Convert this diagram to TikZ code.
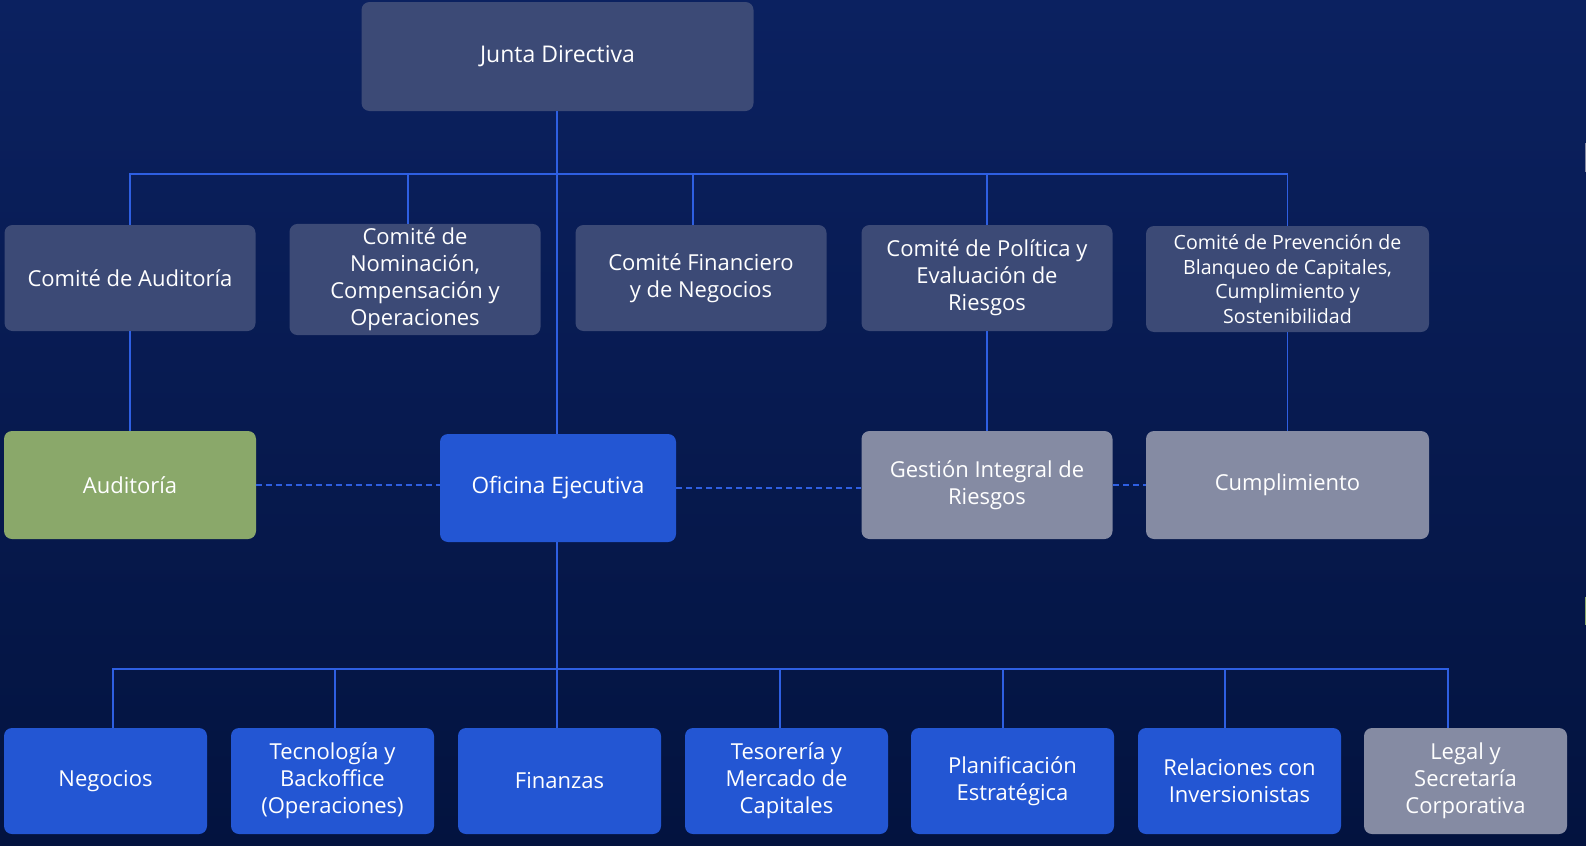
\documentclass[tikz,border=0pt]{standalone}
\usepackage{fontspec}
\setmainfont{Open Sans}
\definecolor{bgtop}{HTML}{0B2160}
\definecolor{bgbot}{HTML}{03133F}
\definecolor{board}{HTML}{3C4A76}
\definecolor{exec}{HTML}{2356D3}
\definecolor{muted}{HTML}{858BA3}
\definecolor{audit}{HTML}{8AA86A}
\definecolor{link}{HTML}{2E5FE2}
\tikzset{
  orgbox/.style={rounded corners=4pt, text=white, align=center, inner sep=2pt,
    font=\fontsize{11}{13.5}\selectfont},
  boardbox/.style={orgbox, fill=board, minimum width=125.5pt, minimum height=53pt},
  execbox/.style={orgbox, fill=exec, minimum width=101.5pt, minimum height=53pt},
  mutedbox/.style={orgbox, fill=muted, minimum width=125.5pt, minimum height=54pt},
  auditbox/.style={orgbox, fill=audit, minimum width=126pt, minimum height=54pt},
  solidlink/.style={draw=link, line width=0.6pt},
  dashlink/.style={draw=link, line width=0.6pt, dash pattern=on 3pt off 2pt}
}
\begin{document}
\begin{tikzpicture}[x=0.5pt, y=-0.5pt]
    \useasboundingbox (0,0) rectangle (1586,846);
    \shade[top color=bgtop, bottom color=bgbot] (0,0) rectangle (1586,846);
    % slivers at the right edge
    \fill[muted] (1584.5,143) rectangle (1586,172);
    \fill[audit] (1584.5,597) rectangle (1586,625);

    % board and committees
    \node[boardbox, minimum width=196pt, minimum height=54.5pt, font=\fontsize{11.5}{13.5}\selectfont] (jd) at (557.5,56.5) {Junta Directiva};
    \node[boardbox] (ca) at (130,278) {Comit\'e de Auditor\'ia};
    \node[boardbox] (cn) at (415,279.5) {Comit\'e de\\Nominaci\'on,\\Compensaci\'on y\\Operaciones};
    \node[boardbox] (cf) at (701,278) {Comit\'e Financiero\\y de Negocios};
    \node[boardbox] (cr) at (987,278) {Comit\'e de Pol\'itica y\\Evaluaci\'on de\\Riesgos};
    \node[boardbox, minimum width=141.5pt, font=\fontsize{9.8}{12.2}\selectfont] (cb) at (1287.5,279)
        {Comit\'e de Prevenci\'on de\\Blanqueo de Capitales,\\Cumplimiento y\\Sostenibilidad};

    % second level
    \node[auditbox] (au) at (130,485) {Auditor\'ia};
    \node[execbox, minimum width=118pt, minimum height=54pt, font=\fontsize{11.3}{13.5}\selectfont] (oe) at (558,488) {Oficina Ejecutiva};
    \node[mutedbox] (gr) at (987,485) {Gesti\'on Integral de\\Riesgos};
    \node[mutedbox, minimum width=141.5pt] (cu) at (1287.5,485) {Cumplimiento};

    % executive units
    \node[execbox] (ng) at (105.5,781) {Negocios};
    \node[execbox] (tb) at (332.5,781) {Tecnolog\'ia y\\Backoffice\\(Operaciones)};
    \node[execbox] (fz) at (559.5,781) {Finanzas};
    \node[execbox] (ts) at (786.5,781) {Tesorer\'ia y\\Mercado de\\Capitales};
    \node[execbox] (pe) at (1012.5,781) {Planificaci\'on\\Estrat\'egica};
    \node[execbox] (ri) at (1239.5,781) {Relaciones con\\Inversionistas};
    \node[mutedbox, minimum width=101.5pt, minimum height=53pt] (lg) at (1465.5,781) {Legal y\\Secretar\'ia\\Corporativa};

    \coordinate (bushi) at (557,174);
    \coordinate (buslo) at (557,669);

    % connectors
    \draw[solidlink] (jd.south -| bushi) -- (oe.north -| bushi);
    \draw[solidlink] (bushi) -| (ca.north);
    \draw[solidlink] (bushi) -| ([xshift=-3.5pt]cn.north);
    \draw[solidlink] (bushi) -| ([xshift=-4pt]cf.north);
    \draw[solidlink] (bushi) -| (cr.north);
    \draw[solidlink] (bushi) -| (cb.north);
    \draw[solidlink] (ca.south) -- (au.north);
    \draw[solidlink] (cr.south) -- (gr.north);
    \draw[solidlink] (cb.south) -- (cu.north);

    \draw[solidlink] (oe.south -| buslo) -- (buslo);
    \draw[solidlink] (buslo) -| ([xshift=3.75pt]ng.north);
    \draw[solidlink] (buslo) -| ([xshift=1.25pt]tb.north);
    \draw[solidlink] (buslo) -| ([xshift=-1.25pt]fz.north);
    \draw[solidlink] (buslo) -| ([xshift=-3.25pt]ts.north);
    \draw[solidlink] (buslo) -| ([xshift=-4.75pt]pe.north);
    \draw[solidlink] (buslo) -| ([xshift=-7.25pt]ri.north);
    \draw[solidlink] (buslo) -| ([xshift=-8.75pt]lg.north);

    \draw[dashlink] (au.east) -- (au.east -| oe.west);
    \draw[dashlink] (oe.east) -- (oe.east -| gr.west);
    \draw[dashlink] (gr.east) -- (cu.west);
\end{tikzpicture}
\end{document}
